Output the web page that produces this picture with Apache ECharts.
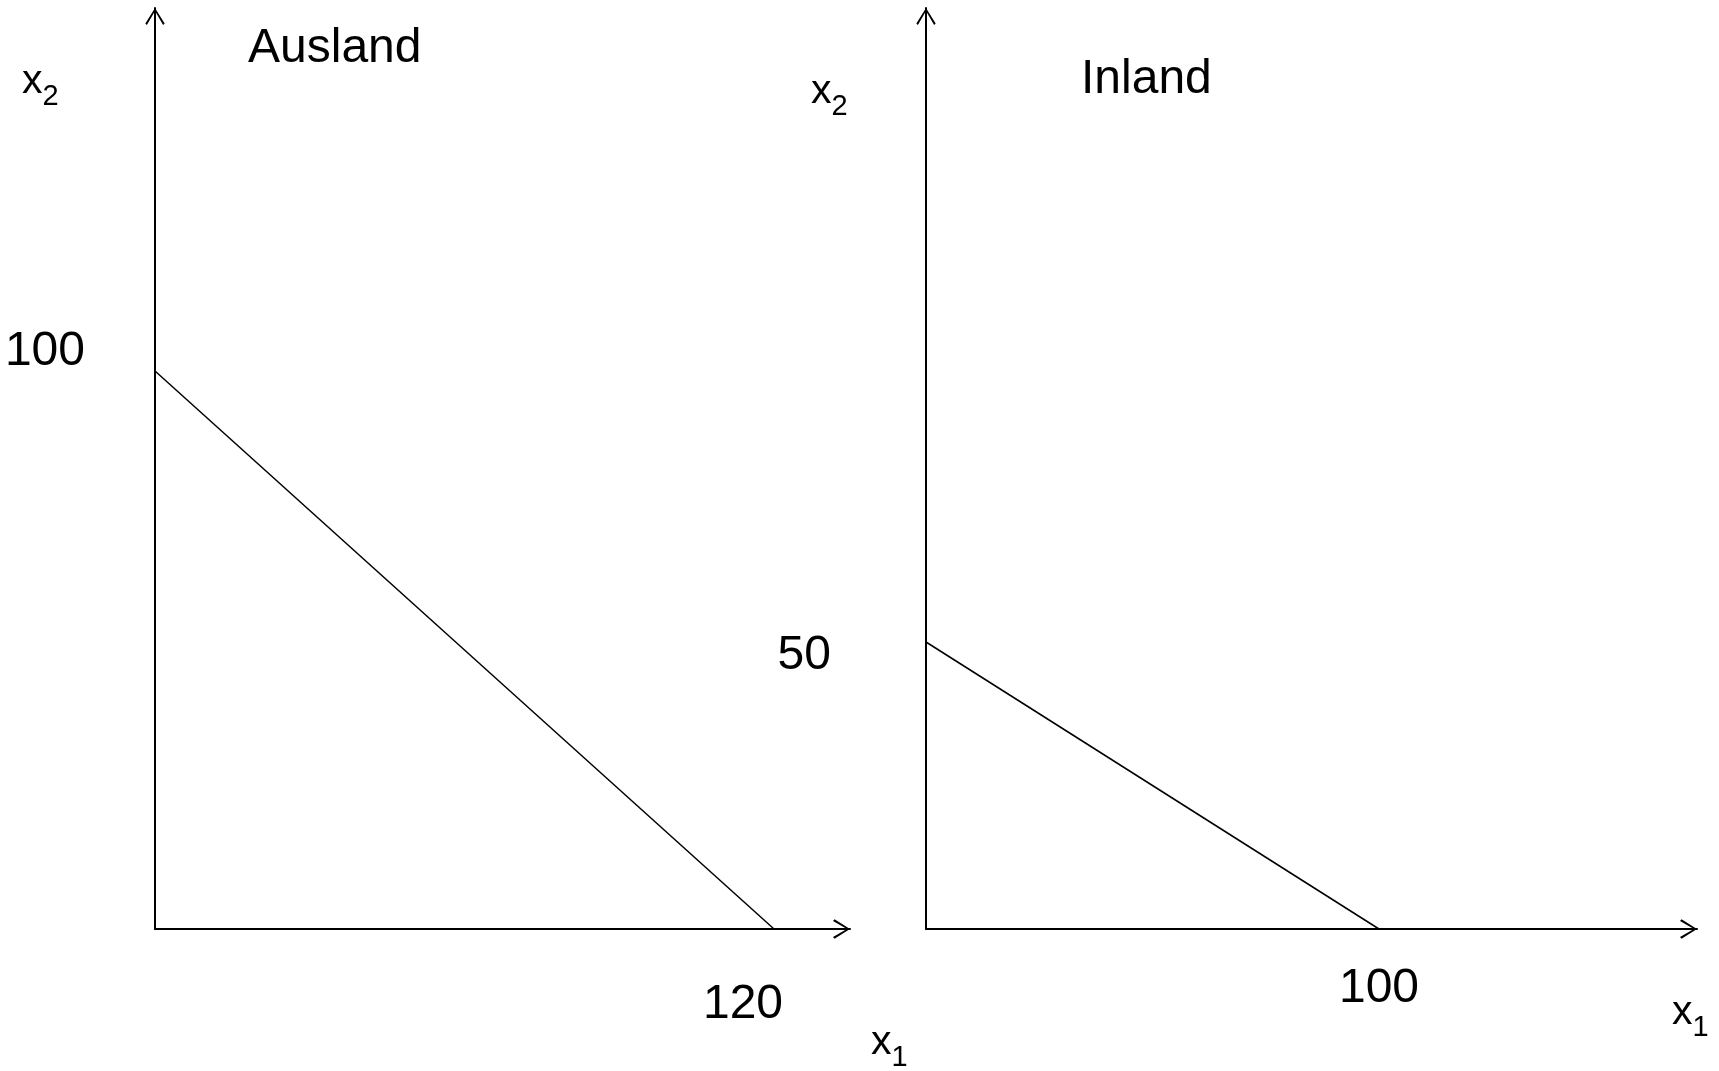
<!DOCTYPE html>
<html>
<head>
<meta charset="utf-8">
<style>
  html, body { margin: 0; padding: 0; background: #ffffff; }
  #chart { width: 1719px; height: 1071px; }
</style>
<script src="https://cdn.jsdelivr.net/npm/echarts@6/dist/echarts.min.js"></script>
</head>
<body>
<div id="chart"></div>
<script>
// ---- data ----
const auslandLine = [[0, 100], [120, 0]];   // foreign production possibility line
const inlandLine  = [[0, 50], [100, 0]];    // domestic production possibility line
const auslandXTicks = [120];
const auslandYTicks = [100];
const inlandXTicks = [100];
const inlandYTicks = [50];
const panelTitles = ['Ausland', 'Inland'];

const FONT = 'Liberation Sans, Arial, sans-serif';
const arrowPath = 'path://M10,0 L20,16 L18.4,17.6 L10,3.2 L1.6,17.6 L0,16 Z';

function axisLineStyle() {
  return {
    show: true,
    onZero: false,
    symbol: ['none', arrowPath],
    symbolSize: [20, 17],
    symbolOffset: [0, -8.5],
    lineStyle: { color: '#000', width: 2 }
  };
}

function valueAxis(gridIndex, max, ticks, labelOpts) {
  return {
    type: 'value',
    gridIndex: gridIndex,
    min: 0,
    max: max,
    axisLine: axisLineStyle(),
    axisTick: { show: false },
    splitLine: { show: false },
    axisLabel: Object.assign({
      customValues: ticks,
      color: '#000',
      fontSize: 48,
      fontFamily: FONT
    }, labelOpts)
  };
}

const chart = echarts.init(document.getElementById('chart'), null, { renderer: 'canvas' });

const nameRich = {
  x: { fontSize: 41, fontWeight: 'normal', fontFamily: FONT, color: '#000', lineHeight: 41 },
  s: { fontSize: 29, fontWeight: 'normal', fontFamily: FONT, color: '#000', lineHeight: 29, padding: [30, 0, 0, 0] }
};

function nameTitle(sub, left, top) {
  return {
    text: '{x|x}{s|' + sub + '}',
    left: left, top: top, padding: 0,
    textStyle: { rich: nameRich, fontSize: 41, fontWeight: 'normal', fontFamily: FONT }
  };
}

chart.setOption({
  backgroundColor: '#ffffff',
  animation: false,
  title: [
    { text: panelTitles[0], left: 248, top: 25, padding: 0,
      textStyle: { fontSize: 48, fontWeight: 'normal', fontFamily: FONT, color: '#000' } },
    { text: panelTitles[1], left: 1081, top: 56, padding: 0,
      textStyle: { fontSize: 48, fontWeight: 'normal', fontFamily: FONT, color: '#000' } },
    nameTitle('2', 22, 61),
    nameTitle('2', 811, 71),
    nameTitle('1', 871, 1022),
    nameTitle('1', 1672, 992)
  ],
  grid: [
    { left: 155, top: 8, width: 695, height: 921 },
    { left: 926, top: 8, width: 771, height: 921 }
  ],
  xAxis: [
    valueAxis(0, 134.73, auslandXTicks, { margin: 52, padding: [0, 62, 0, 0] }),
    valueAxis(1, 170.2, inlandXTicks, { margin: 36 })
  ],
  yAxis: [
    valueAxis(0, 165.05, auslandYTicks, { margin: 70, verticalAlign: 'bottom', lineHeight: 39 }),
    valueAxis(1, 160.45, inlandYTicks, { margin: 95, verticalAlign: 'top', lineHeight: 28 })
  ],
  series: [
    { type: 'line', xAxisIndex: 0, yAxisIndex: 0, data: auslandLine,
      showSymbol: false, lineStyle: { color: '#000', width: 1.5 }, silent: true },
    { type: 'line', xAxisIndex: 1, yAxisIndex: 1, data: inlandLine,
      showSymbol: false, lineStyle: { color: '#000', width: 1.5 }, silent: true }
  ]
});
</script>
</body>
</html>
